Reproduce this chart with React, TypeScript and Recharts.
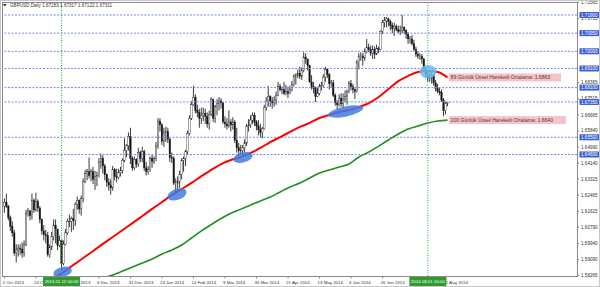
import { ComposedChart, Bar, Line, XAxis, YAxis, ReferenceLine, ReferenceDot } from 'recharts';

// GBPUSD daily bars, 2 Oct 2013 .. 15 Aug 2014 (one bar per trading day)
const HIGHS = [
  1.6230, 1.6255, 1.6195, 1.6140, 1.6110, 1.6065, 1.5990, 1.5990, 1.5990, 1.6000,
  1.6010, 1.6170, 1.6180, 1.6170, 1.6255, 1.6230, 1.6260, 1.6225, 1.6190, 1.6125,
  1.6090, 1.6065, 1.6055, 1.5990, 1.6055, 1.6120, 1.6120, 1.6070, 1.6035, 1.6015,
  1.6010, 1.6070, 1.6125, 1.6145, 1.6135, 1.6175, 1.6210, 1.6240, 1.6225, 1.6245,
  1.6335, 1.6380, 1.6385, 1.6445, 1.6385, 1.6395, 1.6375, 1.6370, 1.6440, 1.6465,
  1.6455, 1.6410, 1.6360, 1.6335, 1.6330, 1.6400, 1.6390, 1.6385, 1.6385, 1.6395,
  1.6440, 1.6545, 1.6515, 1.6575, 1.6600, 1.6450, 1.6450, 1.6440, 1.6495, 1.6480,
  1.6500, 1.6485, 1.6420, 1.6400, 1.6450, 1.6460, 1.6450, 1.6525, 1.6650, 1.6650,
  1.6625, 1.6600, 1.6605, 1.6600, 1.6545, 1.6470, 1.6450, 1.6335, 1.6345, 1.6375,
  1.6440, 1.6450, 1.6485, 1.6585, 1.6665, 1.6740, 1.6820, 1.6775, 1.6720, 1.6700,
  1.6705, 1.6705, 1.6700, 1.6680, 1.6690, 1.6760, 1.6745, 1.6720, 1.6750, 1.6760,
  1.6755, 1.6735, 1.6660, 1.6650, 1.6690, 1.6645, 1.6655, 1.6640, 1.6600, 1.6520,
  1.6510, 1.6510, 1.6540, 1.6620, 1.6645, 1.6665, 1.6680, 1.6680, 1.6640, 1.6640,
  1.6620, 1.6605, 1.6720, 1.6760, 1.6820, 1.6770, 1.6760, 1.6765, 1.6790, 1.6840,
  1.6830, 1.6815, 1.6840, 1.6825, 1.6815, 1.6820, 1.6845, 1.6880, 1.6885, 1.6905,
  1.6920, 1.6915, 1.6995, 1.6990, 1.6960, 1.6930, 1.6875, 1.6840, 1.6815, 1.6810,
  1.6830, 1.6840, 1.6880, 1.6920, 1.6910, 1.6885, 1.6850, 1.6850, 1.6780, 1.6745,
  1.6775, 1.6780, 1.6780, 1.6795, 1.6800, 1.6845, 1.6850, 1.6830, 1.6805, 1.6955,
  1.6990, 1.6995, 1.6990, 1.7015, 1.7065, 1.7040, 1.7030, 1.7030, 1.7025, 1.7035,
  1.7025, 1.7110, 1.7165, 1.7180, 1.7180, 1.7175, 1.7165, 1.7150, 1.7150, 1.7140,
  1.7135, 1.7135, 1.7190, 1.7130, 1.7115, 1.7100, 1.7080, 1.7085, 1.7060, 1.7025,
  1.7000, 1.6990, 1.6985, 1.6965, 1.6920, 1.6895, 1.6885, 1.6890, 1.6880, 1.6850,
  1.6830, 1.6810, 1.6800, 1.6755, 1.6735, 1.6732,
];
const LOWS = [
  1.6155, 1.6180, 1.6115, 1.6060, 1.6030, 1.5930, 1.5895, 1.5925, 1.5935, 1.5920,
  1.5925, 1.5980, 1.6135, 1.6115, 1.6120, 1.6155, 1.6160, 1.6160, 1.6100, 1.6040,
  1.6010, 1.5995, 1.5925, 1.5920, 1.5960, 1.6010, 1.5995, 1.5960, 1.5975, 1.5855,
  1.5880, 1.5985, 1.6040, 1.6080, 1.6055, 1.6065, 1.6085, 1.6170, 1.6150, 1.6140,
  1.6210, 1.6310, 1.6325, 1.6335, 1.6320, 1.6305, 1.6275, 1.6295, 1.6340, 1.6385,
  1.6360, 1.6325, 1.6290, 1.6270, 1.6250, 1.6270, 1.6325, 1.6315, 1.6330, 1.6345,
  1.6360, 1.6420, 1.6445, 1.6480, 1.6410, 1.6375, 1.6380, 1.6390, 1.6395, 1.6420,
  1.6420, 1.6375, 1.6350, 1.6355, 1.6370, 1.6390, 1.6410, 1.6425, 1.6490, 1.6580,
  1.6510, 1.6500, 1.6525, 1.6520, 1.6420, 1.6415, 1.6300, 1.6252, 1.6260, 1.6285,
  1.6330, 1.6370, 1.6400, 1.6460, 1.6560, 1.6640, 1.6715, 1.6675, 1.6655, 1.6600,
  1.6620, 1.6635, 1.6620, 1.6600, 1.6590, 1.6660, 1.6630, 1.6625, 1.6665, 1.6690,
  1.6700, 1.6620, 1.6600, 1.6590, 1.6600, 1.6580, 1.6590, 1.6520, 1.6470, 1.6455,
  1.6460, 1.6460, 1.6470, 1.6505, 1.6580, 1.6600, 1.6620, 1.6610, 1.6585, 1.6560,
  1.6550, 1.6545, 1.6590, 1.6690, 1.6710, 1.6710, 1.6700, 1.6710, 1.6720, 1.6765,
  1.6790, 1.6775, 1.6770, 1.6770, 1.6755, 1.6775, 1.6790, 1.6815, 1.6825, 1.6860,
  1.6855, 1.6850, 1.6890, 1.6935, 1.6900, 1.6835, 1.6800, 1.6780, 1.6735, 1.6760,
  1.6770, 1.6795, 1.6810, 1.6840, 1.6860, 1.6800, 1.6815, 1.6760, 1.6715, 1.6695,
  1.6710, 1.6710, 1.6705, 1.6735, 1.6720, 1.6780, 1.6795, 1.6780, 1.6750, 1.6785,
  1.6905, 1.6950, 1.6925, 1.6950, 1.6990, 1.6995, 1.6975, 1.6960, 1.6960, 1.6980,
  1.6990, 1.7005, 1.7090, 1.7125, 1.7125, 1.7130, 1.7110, 1.7095, 1.7080, 1.7105,
  1.7095, 1.7085, 1.7095, 1.7090, 1.7065, 1.7040, 1.7040, 1.7030, 1.7000, 1.6970,
  1.6960, 1.6955, 1.6935, 1.6895, 1.6860, 1.6840, 1.6840, 1.6830, 1.6820, 1.6790,
  1.6780, 1.6770, 1.6735, 1.6660, 1.6670, 1.6712,
];
const CLOSES = [
  1.6210, 1.6190, 1.6130, 1.6085, 1.6050, 1.5945, 1.5960, 1.5970, 1.5965, 1.5945,
  1.5990, 1.6150, 1.6165, 1.6140, 1.6220, 1.6170, 1.6215, 1.6180, 1.6120, 1.6060,
  1.6040, 1.6035, 1.5935, 1.5975, 1.6030, 1.6090, 1.6070, 1.5985, 1.6010, 1.5890,
  1.5990, 1.6050, 1.6110, 1.6110, 1.6125, 1.6115, 1.6200, 1.6220, 1.6175, 1.6230,
  1.6320, 1.6360, 1.6370, 1.6350, 1.6370, 1.6330, 1.6345, 1.6350, 1.6420, 1.6440,
  1.6400, 1.6355, 1.6315, 1.6300, 1.6285, 1.6380, 1.6345, 1.6340, 1.6365, 1.6375,
  1.6430, 1.6480, 1.6505, 1.6555, 1.6440, 1.6390, 1.6435, 1.6410, 1.6470, 1.6440,
  1.6475, 1.6390, 1.6370, 1.6380, 1.6440, 1.6425, 1.6440, 1.6505, 1.6635, 1.6615,
  1.6530, 1.6575, 1.6580, 1.6540, 1.6445, 1.6440, 1.6310, 1.6310, 1.6320, 1.6355,
  1.6430, 1.6440, 1.6475, 1.6570, 1.6650, 1.6720, 1.6760, 1.6690, 1.6680, 1.6650,
  1.6665, 1.6675, 1.6660, 1.6620, 1.6670, 1.6750, 1.6650, 1.6710, 1.6725, 1.6740,
  1.6730, 1.6630, 1.6620, 1.6610, 1.6630, 1.6615, 1.6630, 1.6535, 1.6495, 1.6480,
  1.6480, 1.6495, 1.6520, 1.6605, 1.6615, 1.6640, 1.6665, 1.6630, 1.6610, 1.6590,
  1.6575, 1.6595, 1.6705, 1.6740, 1.6765, 1.6740, 1.6730, 1.6745, 1.6770, 1.6815,
  1.6800, 1.6800, 1.6780, 1.6790, 1.6780, 1.6800, 1.6825, 1.6870, 1.6875, 1.6885,
  1.6870, 1.6900, 1.6970, 1.6960, 1.6925, 1.6840, 1.6815, 1.6805, 1.6765, 1.6780,
  1.6815, 1.6820, 1.6865, 1.6905, 1.6880, 1.6830, 1.6835, 1.6770, 1.6730, 1.6720,
  1.6755, 1.6725, 1.6750, 1.6765, 1.6790, 1.6830, 1.6815, 1.6800, 1.6790, 1.6940,
  1.6975, 1.6975, 1.6965, 1.7000, 1.7020, 1.7010, 1.6990, 1.7010, 1.6985, 1.7015,
  1.7010, 1.7105, 1.7150, 1.7160, 1.7170, 1.7155, 1.7135, 1.7120, 1.7130, 1.7115,
  1.7105, 1.7110, 1.7125, 1.7110, 1.7090, 1.7065, 1.7065, 1.7040, 1.7010, 1.6985,
  1.6975, 1.6975, 1.6960, 1.6905, 1.6880, 1.6860, 1.6860, 1.6875, 1.6835, 1.6805,
  1.6790, 1.6785, 1.6745, 1.6690, 1.6728, 1.6731,
];
const FIRST_OPEN = 1.6190; // later opens = previous close

// moving averages read every 5th bar (null = off chart)
const EMA_STEP = 5;
const EMA89 = [
  null, null, null, null, null,
  1.5814, 1.5845, 1.5882, 1.5918, 1.5955, 1.5992, 1.6028, 1.6065, 1.6101, 1.6138,
  1.6175, 1.6211, 1.6248, 1.6279, 1.6311, 1.6347, 1.6379, 1.6410, 1.6431, 1.6447,
  1.6468, 1.6494, 1.6525, 1.6551, 1.6578, 1.6604, 1.6625, 1.6651, 1.6667, 1.6682,
  1.6693, 1.6708, 1.6729, 1.6761, 1.6803, 1.6844, 1.6871, 1.6892, 1.6897, 1.6892,
  1.6863,
];
const EMA200 = [
  null, null, null, null, null, null, null, null, null, null,
  1.5814, 1.5829, 1.5850, 1.5871, 1.5892, 1.5913, 1.5939, 1.5960, 1.5986, 1.6023,
  1.6060, 1.6093, 1.6125, 1.6152, 1.6174, 1.6196, 1.6217, 1.6237, 1.6264, 1.6290,
  1.6311, 1.6337, 1.6363, 1.6379, 1.6394, 1.6410, 1.6447, 1.6473, 1.6504, 1.6536,
  1.6567, 1.6593, 1.6609, 1.6625, 1.6635, 1.6640,
];

const DATE_TICKS = [0, 16, 32, 48, 64, 80, 96, 112, 128, 144, 160, 176, 192, 208, 224];
const DATE_LABELS = [
  '2 Oct 2013', '24 Oct 2013', '14 Nov 2013', '6 Dec 2013', '31 Dec 2013', '23 Jan 2014',
  '14 Feb 2014', '9 Mar 2014', '30 Mar 2014', '21 Apr 2014', '13 May 2014', '4 Jun 2014',
  '26 Jun 2014', '18 Jul 2014', '11 Aug 2014',
];
const PRICE_TICKS = [
  1.58265, 1.5909, 1.5994, 1.6079, 1.61615, 1.62465, 1.63315, 1.6414, 1.6499,
  1.6584, 1.66665, 1.67515, 1.68365, 1.71715, 1.72565,
];
const LEVELS = [1.719, 1.7095, 1.7, 1.691, 1.681, 1.6735, 1.655, 1.646];
const MARK_TICKS = [29, 215];
const MARK_LABELS = ['2013.11.12 00:00', '2014.08.01 00:00'];
const TOUCHES = [
  { i: 29.5, p: 1.5845 },
  { i: 87.6, p: 1.6251 },
  { i: 121.1, p: 1.6444 },
  { i: 173.2, p: 1.6685 },
  { i: 215.1, p: 1.6894 },
];
const HEADER = 'GBPUSD,Daily  1.67283 1.67317 1.67122 1.67311';

const X_MIN = -0.76;
const X_MAX = 290.74;
const Y_MIN = 1.5824;
const Y_MAX = 1.7258;
const FONT = '"Liberation Sans", Arial, sans-serif';
const TOUCH_STYLE = [
  { rx: 9.5, ry: 5, rot: -15, fill: '#3f7be0' },
  { rx: 10, ry: 5.5, rot: -20, fill: '#3f7be0' },
  { rx: 10, ry: 5, rot: -15, fill: '#3f7be0' },
  { rx: 18, ry: 5, rot: -12, fill: '#3f7be0' },
  { rx: 8.5, ry: 6.5, rot: 0, fill: '#62bdf0' },
];

const rows = CLOSES.map((close, i) => ({
  i,
  open: i === 0 ? FIRST_OPEN : CLOSES[i - 1],
  high: HIGHS[i],
  low: LOWS[i],
  close,
  range: [LOWS[i], HIGHS[i]],
  ema89: i % EMA_STEP === 0 ? EMA89[i / EMA_STEP] : null,
  ema200: i % EMA_STEP === 0 ? EMA200[i / EMA_STEP] : null,
}));

function Candle(props: any) {
  const { x, y, width, height, payload } = props;
  if (!payload || height == null) return null;
  const { open, close, high, low } = payload;
  const top = Math.min(y, y + height);
  const h = Math.abs(height);
  const k = h / (high - low || 1);
  const yo = top + (high - open) * k;
  const yc = top + (high - close) * k;
  const cx = x + width / 2;
  const up = close >= open;
  return (
    <g>
      <line x1={cx} x2={cx} y1={top} y2={top + h} stroke="#222" strokeWidth={0.9} />
      <rect x={cx - 0.75} y={Math.min(yo, yc)} width={1.5} height={Math.max(Math.abs(yc - yo), 0.6)}
        fill={up ? '#fff' : '#111'} stroke="#222" strokeWidth={0.4} />
    </g>
  );
}

// date labels; the two marked dates get a green tag drawn over them
function DateTick(props: any) {
  const { x, y, payload } = props;
  const m = MARK_TICKS.indexOf(payload.value);
  if (m >= 0) {
    return (
      <g>
        <rect x={x - 18.5} y={y + 1} width={37} height={9} fill="#2f9a2f" />
        <text x={x} y={y + 5.5} dy="0.35em" textAnchor="middle" fontSize={4.4} fill="#fff"
          fontFamily={FONT}>{MARK_LABELS[m]}</text>
      </g>
    );
  }
  const label = DATE_LABELS[DATE_TICKS.indexOf(payload.value)];
  return (
    <g>
      <line x1={x} x2={x} y1={y} y2={y + 2.5} stroke="#666" strokeWidth={0.8} />
      <text x={x - 2} y={y + 7.5} fontSize={4.4} fill="#333" fontFamily={FONT}>{label}</text>
    </g>
  );
}

function PriceTick(props: any) {
  const { x, y, payload } = props;
  const v = payload.value;
  const txt = v.toFixed(5);
  if (LEVELS.includes(v)) {
    return (
      <g>
        <rect x={x + 2.5} y={y - 3} width={21} height={6} fill="#3c5fd6" />
        <text x={x + 4} y={y} dy="0.35em" fontSize={4.6} fill="#fff" fontFamily={FONT}>{txt}</text>
      </g>
    );
  }
  return (
    <g>
      <line x1={x} x2={x + 2} y1={y} y2={y} stroke="#666" strokeWidth={0.8} />
      <text x={x + 4} y={y} dy="0.35em" fontSize={4.6} fill="#333" fontFamily={FONT}>{txt}</text>
    </g>
  );
}

function emaTag(text: string, w: number) {
  return (p: any) => (
    <g>
      <rect x={p.cx + 1.5} y={p.cy - 4} width={w} height={8} fill="#f6c3ca" />
      <text x={p.cx + 3} y={p.cy} dy="0.35em" fontSize={5.1} fill="#5a3434" fontFamily={FONT}>{text}</text>
    </g>
  );
}

export default function App() {
  const last = rows.length - 1;
  return (
    <div style={{ position: 'relative', width: 600, height: 287, background: '#fff', overflow: 'hidden' }}>
      <style>{'body{margin:0}'}</style>
      <ComposedChart width={600} height={287} data={rows} margin={{ top: 2, right: 0, bottom: 0, left: 3 }}>
        <XAxis dataKey="i" type="number" domain={[X_MIN, X_MAX]} allowDataOverflow
          ticks={[...DATE_TICKS, ...MARK_TICKS]} interval={0} height={11} tickLine={false} axisLine={false}
          tickSize={0} tickMargin={0} tick={(p: any) => <DateTick {...p} />} />
        <YAxis orientation="right" type="number" domain={[Y_MIN, Y_MAX]} allowDataOverflow
          ticks={[...PRICE_TICKS, ...LEVELS]} interval={0} width={23} tickLine={false} axisLine={false}
          tickSize={0} tickMargin={0} tick={(p: any) => <PriceTick {...p} />} />
        {LEVELS.map(v => (
          <ReferenceLine key={v} y={v} stroke="#7088ec" strokeWidth={1} strokeDasharray="2 1.5" />
        ))}
        {MARK_TICKS.map(i => (
          <ReferenceLine key={i} x={i} stroke="#2ea02e" strokeWidth={1} strokeDasharray="1 1.5" />
        ))}
        {TOUCHES.map((t, k) => {
          const s = TOUCH_STYLE[k];
          return (
            <ReferenceDot key={k} x={t.i} y={t.p} r={s.rx}
              shape={(p: any) => (
                <ellipse cx={p.cx} cy={p.cy} rx={s.rx} ry={s.ry} fill={s.fill} opacity={0.85}
                  transform={`rotate(${s.rot} ${p.cx} ${p.cy})`} />
              )} />
          );
        })}
        <Bar dataKey="range" barSize={2} shape={(p: any) => <Candle {...p} />} isAnimationActive={false} />
        <Line dataKey="ema89" type="monotone" stroke="#ff0000" strokeWidth={2} dot={false} connectNulls
          isAnimationActive={false} />
        <Line dataKey="ema200" type="monotone" stroke="#1f8f1f" strokeWidth={1.6} dot={false} connectNulls
          isAnimationActive={false} />
        <ReferenceDot x={last} y={rows[last].ema89 as number} r={1}
          shape={emaTag('89 Günlük Üssel Hareketli Ortalama: 1.6863', 112)} />
        <ReferenceDot x={last} y={rows[last].ema200 as number} r={1}
          shape={emaTag('200 Günlük Üssel Hareketli Ortalama: 1.6640', 117)} />
      </ComposedChart>
      <div style={{ position: 'absolute', left: 2, top: 2, width: 576, height: 275, border: '1px solid #8a8a8a',
        boxSizing: 'border-box', pointerEvents: 'none' }} />
      <div style={{ position: 'absolute', left: 0, top: 0, width: 600, height: 287, border: '1px solid #c8c8c8',
        boxSizing: 'border-box', pointerEvents: 'none' }} />
      <svg width={200} height={12} style={{ position: 'absolute', left: 0, top: 0 }}>
        <path d="M3 4 L6.5 4 L4.75 6.5 Z" fill="#222" />
        <text x={10} y={5.5} dy="0.35em" fontSize={4.6} fill="#333" fontFamily={FONT}>{HEADER}</text>
      </svg>
    </div>
  );
}
